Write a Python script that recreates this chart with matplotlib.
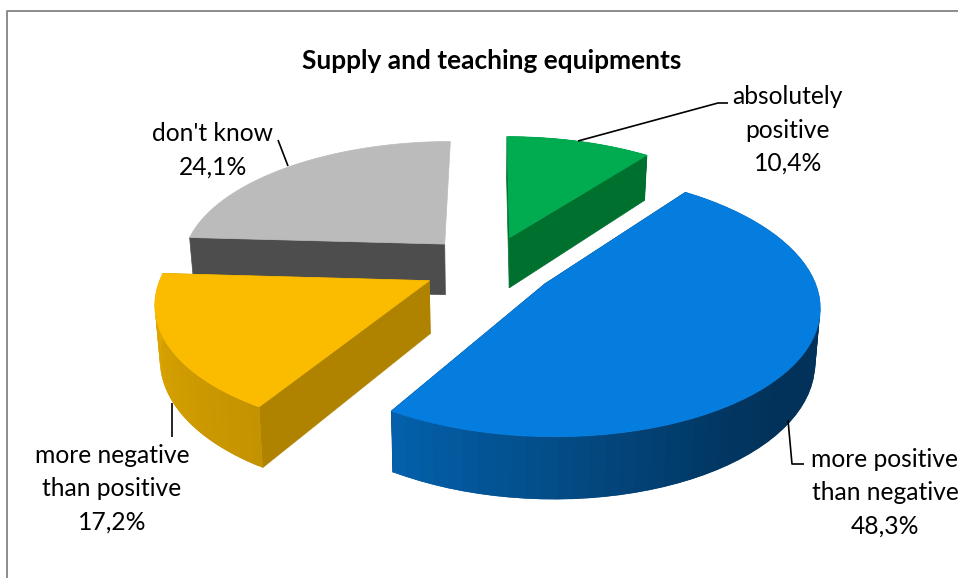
import numpy as np
import matplotlib
matplotlib.use("Agg")
import matplotlib.pyplot as plt
from matplotlib.patches import Polygon

title = "Supply and teaching equipments"
categories = ["absolutely\npositive", "more positive\nthan negative",
              "more negative\nthan positive", "don't know"]
values = [10.4, 48.3, 17.2, 24.1]
top_colors = ["#00AC4F", "#057DDE", "#FBBC00", "#BBBBBB"]
edge_colors = ["#00702F", "#00305A", "#AF8300", "#4D4D4D"]
draw_order = [3, 0, 2, 1]
label_xy = [(788, 130), (885, 493), (112, 489), (213, 150)]
leaders = [[(578, 141), (718, 103), (728, 103)],
           [(788, 420), (792, 464), (804, 464)],
           [(172, 403), (172, 437)],
           [(288, 166), (278, 140)]]

CX, CY, RX, RY, K, DEPTH, SHRINK, EXPLODE = 489, 266, 265, 124, 0.15, 52, 0.985, 0.25


def project(u, v, lower=False):
    s = 1 / (1 + K * v)
    x = CX + RX * u * s
    y = CY - RY * v * s
    if lower:
        x = CX + (x - CX) * SHRINK
        y = y + DEPTH * s
    return x, y


def shade(theta):
    return np.interp(theta, [0, 130, 150, 211, 273, 360],
                     [0.40, 0.40, 0.46, 0.78, 0.90, 0.90])


fig = plt.figure(figsize=(9.58, 5.78), dpi=100)
ax = fig.add_axes([0, 0, 1, 1])
ax.set_xlim(0, 958)
ax.set_ylim(578, 0)
ax.axis("off")
plt.rcParams["font.family"] = ["Lato", "DejaVu Sans"]

ax.plot([7.5, 7.5, 958], [578, 10.5, 10.5], color="#8C8C8C", lw=1.4, solid_capstyle="butt")

total = sum(values)
starts = np.cumsum([0] + values[:-1]) / total * 360
for i in draw_order:
    a0, a1 = starts[i], starts[i] + values[i] / total * 360
    mid = np.radians((a0 + a1) / 2)
    eu, ev = EXPLODE * np.sin(mid), EXPLODE * np.cos(mid)
    th = np.radians(np.linspace(a0, a1, 61))
    u, v = eu + np.sin(th), ev + np.cos(th)
    tx, ty = project(u, v)
    bx, by = project(u, v, True)
    ax0, ay0 = project(eu, ev)
    bx0, by0 = project(eu, ev, True)
    z = 2 + draw_order.index(i) * 3
    ends = (0,) if i == 3 else (0, -1)
    for e in ends:
        ax.add_patch(Polygon([(ax0, ay0), (tx[e], ty[e]), (bx[e], by[e]), (bx0, by0)],
                             fc=edge_colors[i], ec=edge_colors[i], lw=0.5, zorder=z))
    rgb = np.array(matplotlib.colors.to_rgb(top_colors[i]))
    if i != 3:
        for j in range(len(th) - 1):
            col = edge_colors[i] if i == 0 else rgb * shade(np.degrees(th[j]))
            k = min(j + 2, len(th) - 1)
            ax.add_patch(Polygon([(tx[j], ty[j]), (tx[k], ty[k]), (bx[k], by[k]), (bx[j], by[j])],
                                 fc=col, ec="none", zorder=z + 1))
    ax.add_patch(Polygon(list(zip(tx, ty)) + [(ax0, ay0)], fc=top_colors[i], ec=top_colors[i],
                         lw=0.5, zorder=z + 2))

for pts in leaders:
    xs, ys = zip(*pts)
    ax.plot(xs, ys, color="black", lw=1.2, zorder=30, solid_capstyle="butt")

FS = 17.7
for name, val, (x, y) in zip(categories, values, label_xy):
    txt = f"{name}\n{val:.1f}%".replace(".", ",")
    ax.text(x, y, txt, ha="center", va="center", fontsize=FS, linespacing=1.55,
            color="black", zorder=40, family=["Lato", "DejaVu Sans"], clip_on=True)

ax.text(492, 61, title, ha="center", va="center", fontsize=18.9, fontweight="bold",
        color="black", family=["Lato", "DejaVu Sans"])

fig.savefig("out.png", dpi=100)
